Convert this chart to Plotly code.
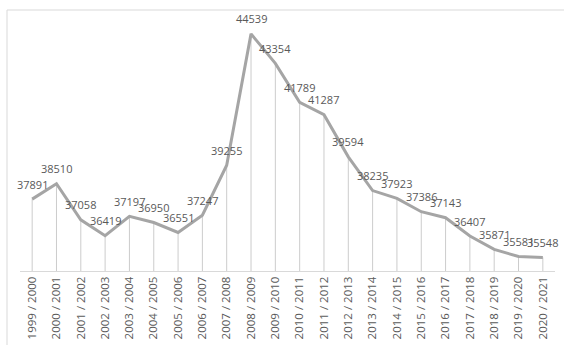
import plotly.graph_objects as go

# Academic years and the counts recorded for each
years = [
    "1999 / 2000", "2000 / 2001", "2001 / 2002", "2002 / 2003", "2003 / 2004",
    "2004 / 2005", "2005 / 2006", "2006 / 2007", "2007 / 2008", "2008 / 2009",
    "2009 / 2010", "2010 / 2011", "2011 / 2012", "2012 / 2013", "2013 / 2014",
    "2014 / 2015", "2015 / 2016", "2016 / 2017", "2017 / 2018", "2018 / 2019",
    "2019 / 2020", "2020 / 2021",
]
values = [
    37891, 38510, 37058, 36419, 37197, 36950, 36551, 37247, 39255, 44539,
    43354, 41789, 41287, 39594, 38235, 37923, 37386, 37143, 36407, 35871,
    35581, 35548,
]

y_floor = 35000
y_top = 45500

LINE = "#a5a5a5"
DROP = "#cccccc"
FRAME = "#d9d9d9"
TEXT = "#595959"
FONT = "Open Sans"

fig = go.Figure()

# Vertical drop lines from each point to the baseline
drop_x, drop_y = [], []
for cat, v in zip(years, values):
    drop_x += [cat, cat, None]
    drop_y += [y_floor, v, None]
fig.add_trace(go.Scatter(
    x=drop_x, y=drop_y, mode="lines",
    line=dict(color=DROP, width=1), hoverinfo="skip", showlegend=False,
))

# Main series
fig.add_trace(go.Scatter(
    x=years, y=values, mode="lines",
    line=dict(color=LINE, width=3), showlegend=False,
))

# Value labels above each point
for cat, v in zip(years, values):
    fig.add_annotation(
        x=cat, y=v, text=str(v), showarrow=False, yshift=15,
        font=dict(family=FONT, size=11, color=TEXT),
    )

# Light outer frame (top and left edges visible)
fig.add_shape(
    type="rect", xref="paper", yref="paper",
    x0=-13 / 535, x1=(570 - 20) / 535, y0=-0.5, y1=1,
    line=dict(color=FRAME, width=1), layer="below",
)

fig.update_layout(
    width=564, height=345,
    margin=dict(l=20, r=9, t=10, b=74, autoexpand=False),
    paper_bgcolor="white", plot_bgcolor="white",
    font=dict(family=FONT, size=11, color=TEXT),
    xaxis=dict(
        type="category", tickangle=-90, showgrid=False, ticks="",
        showline=True, linecolor=FRAME, linewidth=1, automargin=False,
        tickfont=dict(family=FONT, size=11.5, color=TEXT),
        range=[-0.5, len(years) - 0.5],
    ),
    yaxis=dict(
        range=[y_floor, y_top], visible=False, showgrid=False, zeroline=False,
    ),
)

fig.write_html("out.html")
